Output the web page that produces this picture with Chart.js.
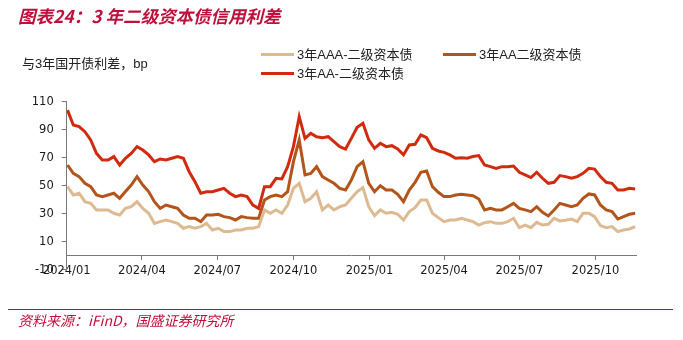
<!DOCTYPE html>
<html>
<head>
<meta charset="utf-8">
<script src="https://cdn.jsdelivr.net/npm/chart.js@4.4.0/dist/chart.umd.min.js"></script>
<style>
  body { margin: 0; background: #fff; }
  #wrap { position: relative; width: 683px; height: 340px; overflow: hidden; font-family: "Liberation Sans", "Noto Sans CJK SC", sans-serif; }
  #myChart { position: absolute; left: 0; top: 0; }
  .title { position: absolute; left: 18px; top: 3px; font: italic bold 17.5px "Noto Sans CJK SC", sans-serif; color: #C00F3C; white-space: nowrap; }
  .unit { position: absolute; left: 22px; top: 53px; font-size: 13px; color: #222; white-space: nowrap; }
  .leg { position: absolute; font-size: 13px; color: #222; white-space: nowrap; height: 18px; line-height: 18px; }
  .leg i { display: inline-block; width: 33px; height: 3px; vertical-align: middle; margin-right: 3px; position: relative; top: -1px; }
  .rule { position: absolute; left: 8px; top: 309px; width: 665px; height: 0; border-top: 1.5px solid #B01E23; }
  .src { position: absolute; left: 18px; top: 310px; font: italic 14px "Noto Sans CJK SC", sans-serif; color: #C00F3C; white-space: nowrap; }
</style>
</head>
<body>
<div id="wrap">
  <canvas id="myChart" width="683" height="340"></canvas>
  <div class="title">图表24：3 年二级资本债信用利差</div>
  <div class="unit">与3年国开债利差，bp</div>
  <div id="legend"></div>
  <div class="rule"></div>
  <div class="src">资料来源：iFinD，国盛证券研究所</div>
</div>
<script>
// weekly samples, starting 2024-01-02
const startDate = '2024-01-02';
const seriesNames = ['3年AAA-二级资本债', '3年AA二级资本债', '3年AA-二级资本债'];
const seriesColors = ['#DDBA92', '#B3541B', '#D22A0E'];

const aaa = [49.3, 43.4, 44.6, 38.6, 37.4, 32.7, 32.7, 32.7, 30.3, 29.1, 33.8, 35, 38.6, 33.8, 30.3, 23.1, 24.3, 25.5, 24.3, 23.1,
    19.6, 20.8, 19.6, 20.8, 23.1, 18.4, 19.6, 17.2, 17.2, 18.4, 18.4, 19.6, 19.6, 20.8, 32.7, 30.3, 32.7, 30.3, 36.2, 48.1,
    51.7, 38.6, 41, 45.7, 32.7, 36.2, 32.7, 35, 36.2, 41, 45.7, 48.6, 35, 28.6, 32.7, 30.3, 31, 29.6, 25.5, 31.5,
    34.3, 39.8, 39.8, 30.3, 27.2, 24.3, 25.5, 25.5, 26.7, 25.5, 24.3, 21.9, 23.6, 24.3, 23.1, 23.1, 24.3, 26.7, 20, 21.9,
    20, 23.8, 21.9, 22.4, 26.7, 24.8, 25.3, 26.2, 24.3, 30.3, 30.3, 27.9, 21.5, 20, 20.8, 17.2, 18.4, 19.1, 20.8];
const aa = [64.8, 58.8, 56.5, 51.7, 49.3, 43.4, 42.2, 43.4, 44.6, 41, 45.8, 50.5, 56.5, 50.5, 45.8, 38.6, 33.8, 36.2, 35, 33.8,
    29.1, 26.7, 26.7, 24.3, 29.1, 29.1, 29.6, 27.9, 27.2, 25.5, 27.9, 27.2, 26.7, 26.7, 39.8, 42.2, 43.4, 42.2, 45.7, 67.2,
    82.7, 57.7, 58.8, 63.6, 56.5, 54.1, 51.7, 48.1, 46.9, 54.1, 63.6, 67.2, 51.7, 45.7, 50, 46.9, 46.9, 43.8, 38.6, 46.9,
    52.4, 59.6, 60.5, 49.3, 45.3, 42.2, 42.2, 43.4, 43.8, 43.4, 42.9, 40.5, 32.7, 33.8, 32.7, 32.7, 35, 37.4, 33.8, 32.7,
    31.5, 35, 31, 28.4, 32.7, 37.4, 36.2, 35, 36.2, 41, 44.1, 43.4, 36.2, 32.7, 31.5, 26.2, 27.9, 29.6, 30.3];
const aaMinus = [104, 93.4, 92.2, 88.6, 82.7, 73.1, 68.4, 68.4, 70.8, 64.8, 69.6, 73.1, 77.9, 75.5, 72, 67.2, 69.1, 68.4, 69.6, 70.8,
    69.6, 60, 52.9, 44.6, 45.7, 45.7, 46.9, 48.1, 44.6, 42.2, 43.4, 42.2, 36.2, 33.8, 49.3, 49.3, 55.3, 54.8, 63.6, 77.9,
    99.3, 83.8, 87.4, 85, 84.3, 85, 81.5, 77.9, 76.2, 83.8, 91.7, 94.6, 82.7, 76.7, 80.3, 77.9, 78.6, 76.2, 72, 79.1,
    79.6, 86.2, 84.3, 76.7, 74.8, 73.8, 72, 69.6, 70, 69.6, 70.8, 71.5, 64.8, 63.6, 62.4, 63.6, 63.6, 64.1, 59.6, 57.7,
    55.8, 59.6, 55.3, 51.7, 52.4, 57.2, 56.5, 55.3, 56.5, 58.8, 62.4, 61.9, 56.5, 52.4, 51.7, 46.9, 46.9, 48.1, 47.7];

const tickLabels = ['2024/01', '2024/04', '2024/07', '2024/10', '2025/01', '2025/04', '2025/07', '2025/10'];

const DAY = 86400000;
const t0 = Date.UTC(2024, 0, 1);
let start = Date.parse(startDate);
let dates = [];
for (let i = 0; i < aaa.length; i++) {
    dates.push((start - t0) / DAY + i * 7);
}
let tickDays = tickLabels.map(function (s) {
    let p = s.split('/');
    return (Date.UTC(+p[0], +p[1] - 1, 1) - t0) / DAY;
});

let toPoints = function (vals) {
    return vals.map(function (v, i) { return { x: dates[i], y: v }; });
};

const allSeries = [aaa, aa, aaMinus];
const datasets = allSeries.map(function (vals, k) {
    return {
        label: seriesNames[k],
        data: toPoints(vals),
        borderColor: seriesColors[k],
        backgroundColor: seriesColors[k],
        borderWidth: 3,
        pointRadius: 0,
        tension: 0,
    };
});

// legend: two rows, like the original
const legendSpots = [[261, 46], [443, 46], [261, 65]];
let legendHtml = '';
for (let k = 0; k < seriesNames.length; k++) {
    legendHtml += '<div class="leg" style="left:' + legendSpots[k][0] + 'px;top:' + legendSpots[k][1] + 'px">' +
        '<i style="background:' + seriesColors[k] + '"></i>' + seriesNames[k] + '</div>';
}
document.getElementById('legend').innerHTML = legendHtml;

const tickFont = { family: 'DejaVu Sans', size: 11.5 };
const axisColor = '#7a7a7a';

const ctx = document.getElementById('myChart').getContext('2d');
const chart = new Chart(ctx, {
    type: 'line',
    data: { datasets: datasets },
    options: {
        responsive: false,
        animation: false,
        layout: { padding: { top: 101.7, bottom: 70.3, left: 0, right: 47 } },
        plugins: { legend: { display: false }, tooltip: { enabled: false } },
        scales: {
            x: {
                type: 'linear',
                position: { y: 0 },
                min: 0,
                max: dates[dates.length - 1] + 1,
                afterBuildTicks: function (scale) {
                    scale.ticks = tickDays.map(function (d) { return { value: d }; });
                },
                ticks: {
                    autoSkip: false,
                    maxRotation: 0,
                    padding: 4,
                    color: '#1a1a1a',
                    font: tickFont,
                    callback: function (v) {
                        let i = tickDays.indexOf(v);
                        return i >= 0 ? tickLabels[i] : '';
                    }
                },
                grid: { drawOnChartArea: false, drawTicks: true, tickLength: 4, color: axisColor },
                border: { color: axisColor, width: 1 }
            },
            y: {
                min: -10,
                max: 110,
                afterFit: function (scale) { scale.width = 66.7; },
                ticks: { stepSize: 20, padding: 8, color: '#1a1a1a', font: tickFont },
                grid: { drawOnChartArea: false, drawTicks: true, tickLength: 5, color: axisColor },
                border: { color: axisColor, width: 1 }
            }
        }
    }
});
</script>
</body>
</html>
